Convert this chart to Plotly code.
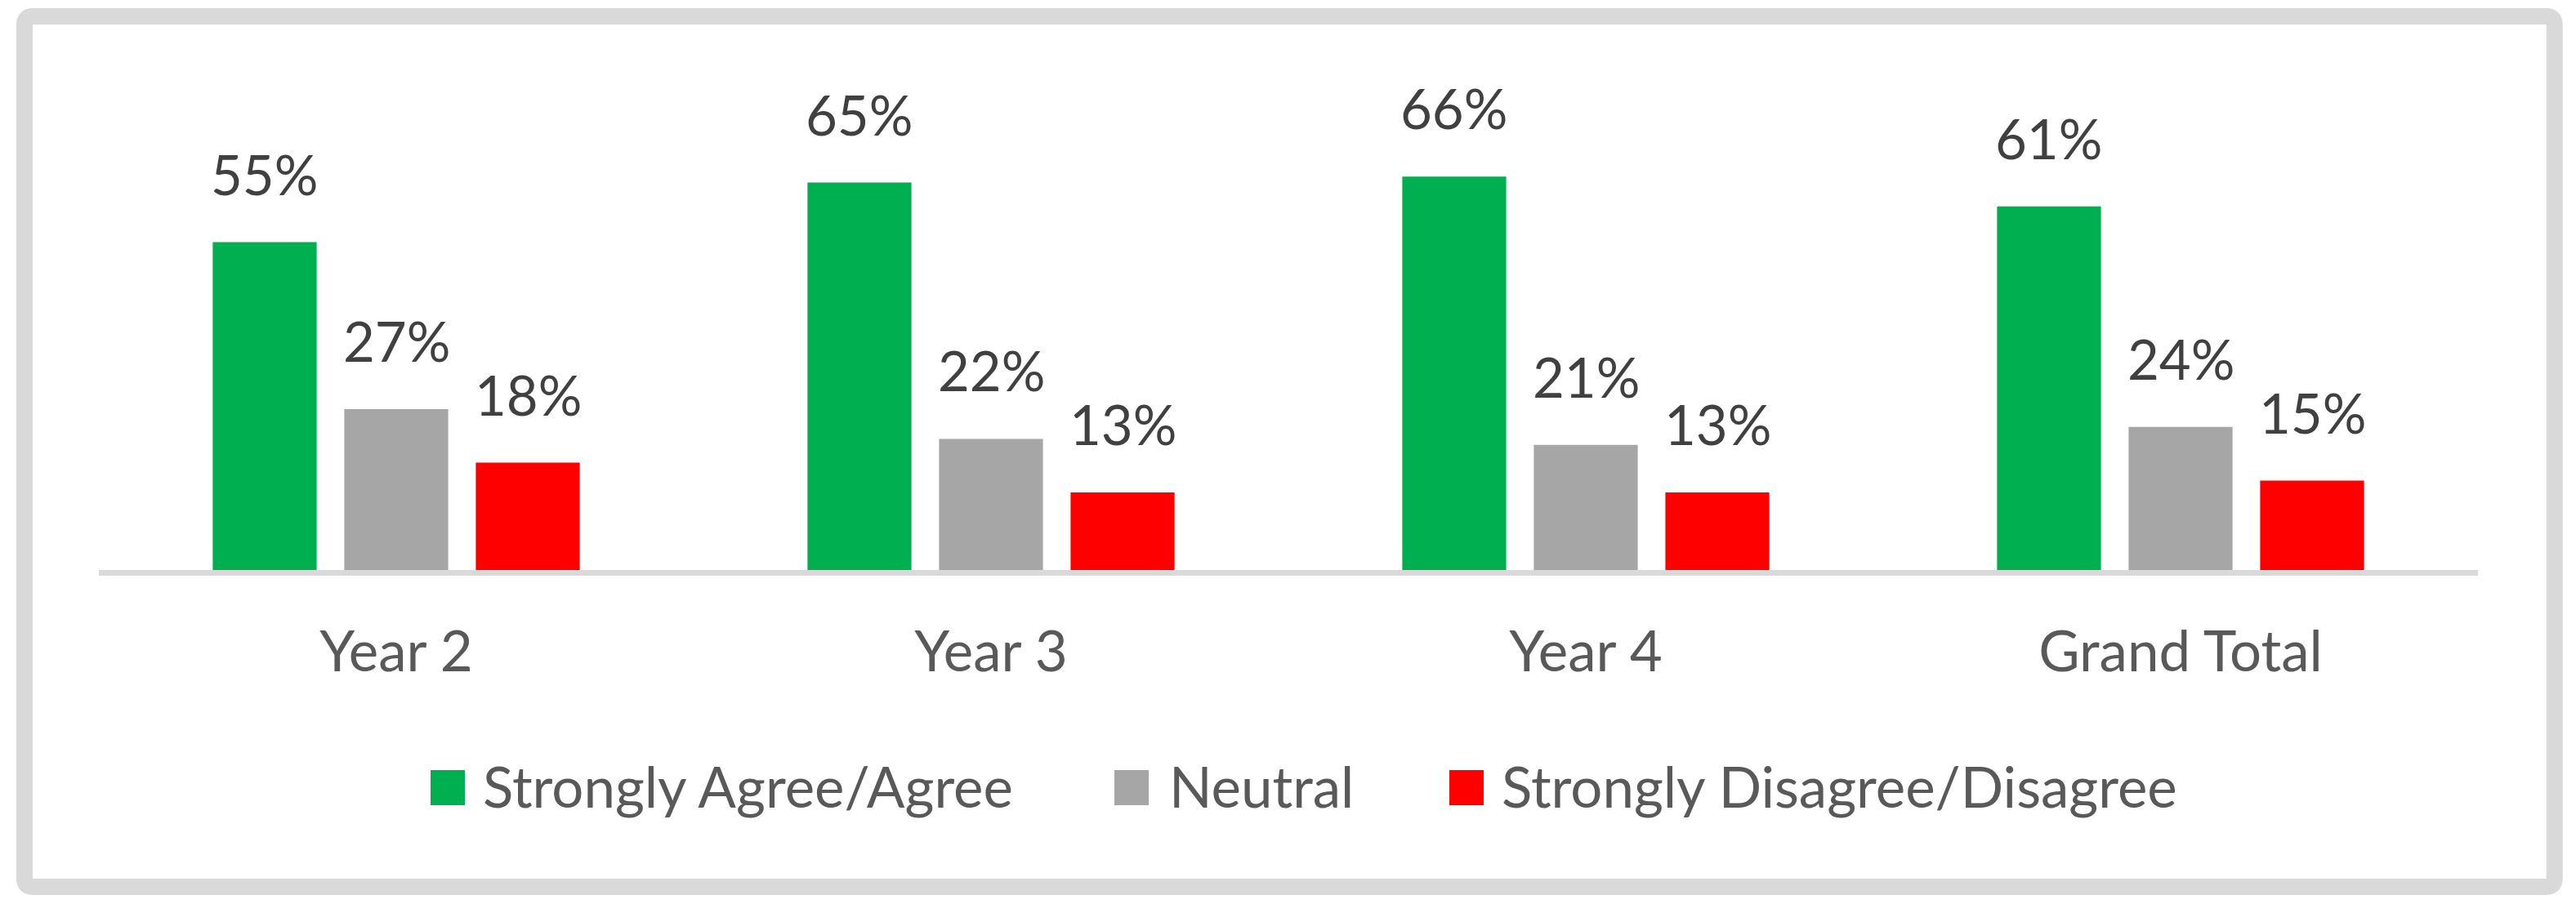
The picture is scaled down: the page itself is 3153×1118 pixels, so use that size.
import plotly.graph_objects as go

# ---------------- data ----------------
categories = ["Year 2", "Year 3", "Year 4", "Grand Total"]
series_names = ["Strongly Agree/Agree", "Neutral", "Strongly Disagree/Disagree"]
agree = [0.55, 0.65, 0.66, 0.61]
neutral = [0.27, 0.22, 0.21, 0.24]
disagree = [0.18, 0.13, 0.13, 0.15]
series_values = [agree, neutral, disagree]
series_colors = ["#00B050", "#A6A6A6", "#FF0000"]

# ---------------- geometry / style ----------------
OFF = 8  # default page body margin of the written html
W, H = 3153 - OFF, 1118 - OFF
PLOT_L, PLOT_R, PLOT_T, PLOT_B = 121, 3033, 114, 698  # page pixels
ML, MR = PLOT_L - OFF, W - (PLOT_R - OFF)
MT, MB = PLOT_T - OFF, H - (PLOT_B - OFF)
PW = W - ML - MR
PH = H - MT - MB
YMAX = 0.8
BARGAP = 0.3365
GROUPGAP = 0.21
FONT = "Lato"
FS_LABEL = 67
FS_TEXT = 69
LABEL_COLOR = "#404040"
TEXT_COLOR = "#595959"
FRAME_COLOR = "#D9D9D9"


def pxx(px):
    return (px - PLOT_L) / PW


def pxy(py):
    return (PLOT_B - py) / PH


fig = go.Figure()
for name, vals, color in zip(series_names, series_values, series_colors):
    fig.add_trace(go.Bar(
        x=categories, y=vals, name=name,
        marker=dict(color=color, line=dict(width=0)),
        hovertemplate="%{x}: %{y:.0%}<extra>" + name + "</extra>",
    ))

annotations = []
n = len(series_values)
slot = (1 - BARGAP) / n
for i, vals in enumerate(series_values):
    off = (i - (n - 1) / 2) * slot
    for j, v in enumerate(vals):
        annotations.append(dict(
            x=j + off, y=v, xref="x", yref="y",
            text=f"{round(v * 100)}%", showarrow=False,
            xanchor="center", yanchor="bottom", yshift=42,
            font=dict(family=FONT, size=FS_LABEL, color=LABEL_COLOR),
        ))

# legend (squares + real text)
shapes = []
leg_sq_x = [527, 1364, 1774]
leg_txt_x = [589, 1429, 1836]
leg_top, leg_bot = 943, 986
for name, color, sx, tx in zip(series_names, series_colors, leg_sq_x, leg_txt_x):
    shapes.append(dict(type="rect", xref="paper", yref="paper",
                       x0=pxx(sx), x1=pxx(sx + 42), y0=pxy(leg_bot), y1=pxy(leg_top),
                       fillcolor=color, line=dict(width=0)))
    annotations.append(dict(
        x=pxx(tx), y=pxy((leg_top + leg_bot) / 2 - 2), xref="paper", yref="paper",
        text=name, showarrow=False, xanchor="left", yanchor="middle",
        font=dict(family=FONT, size=FS_TEXT, color=TEXT_COLOR),
    ))

# rounded outer frame
fx0, fy0, fx1, fy1, r = 30, 20, 3126.7, 1086, 10
pts = [
    ("M", (fx0 + r, fy0)), ("L", (fx1 - r, fy0)), ("Q", (fx1, fy0), (fx1, fy0 + r)),
    ("L", (fx1, fy1 - r)), ("Q", (fx1, fy1), (fx1 - r, fy1)),
    ("L", (fx0 + r, fy1)), ("Q", (fx0, fy1), (fx0, fy1 - r)),
    ("L", (fx0, fy0 + r)), ("Q", (fx0, fy0), (fx0 + r, fy0)),
]
path = ""
for item in pts:
    cmd = item[0]
    coords = " ".join(f"{pxx(p[0]):.6f},{pxy(p[1]):.6f}" for p in item[1:])
    path += f"{cmd}{coords} "
path += "Z"
shapes.append(dict(type="path", xref="paper", yref="paper", path=path,
                   line=dict(color=FRAME_COLOR, width=20)))

fig.update_layout(
    width=W, height=H,
    margin=dict(l=ML, r=MR, t=MT, b=MB, pad=0),
    paper_bgcolor="white", plot_bgcolor="white",
    barmode="group", bargap=BARGAP, bargroupgap=GROUPGAP,
    showlegend=False,
    font=dict(family=FONT, size=FS_TEXT, color=TEXT_COLOR),
    xaxis=dict(
        type="category", showline=True, linecolor=FRAME_COLOR, linewidth=7,
        showgrid=False, zeroline=False, ticks="", ticklabelstandoff=34,
        tickfont=dict(family=FONT, size=FS_TEXT, color=TEXT_COLOR),
    ),
    yaxis=dict(range=[0, YMAX], visible=False, showgrid=False, zeroline=False),
    annotations=annotations,
    shapes=shapes,
)

fig.write_html("out.html")
